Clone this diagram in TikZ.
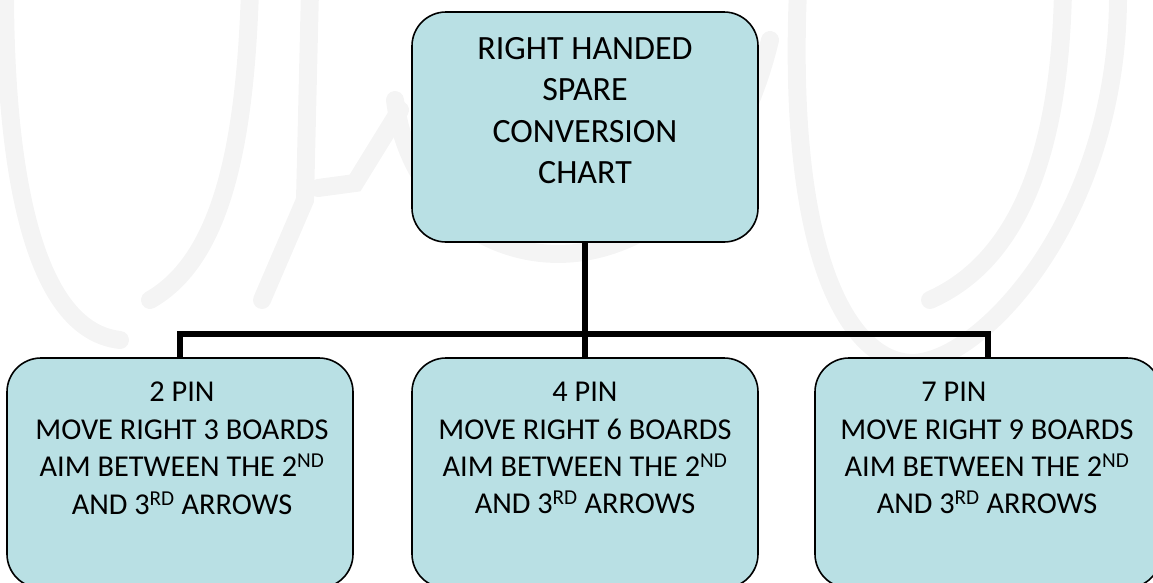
\documentclass[tikz,border=0pt]{standalone}
\usepackage{fontspec}
\setmainfont{Carlito}
\definecolor{boxfill}{HTML}{B9E0E4}
\definecolor{wm}{HTML}{F4F4F4}
\begin{document}
\begin{tikzpicture}[x=1pt,y=-1pt,
  box/.style={draw=black, line width=1.6pt, fill=boxfill, rounded corners=34pt,
    minimum width=346pt, minimum height=230pt, inner sep=0pt},
  conn/.style={line width=6pt, line join=miter},
  toptxt/.style={align=center, font=\fontsize{34}{41.5}\selectfont, inner sep=0pt, anchor=north},
  bottxt/.style={align=center, font=\fontsize{30.3}{37.4}\selectfont, inner sep=0pt, anchor=north},
  wmark/.style={draw=wm, line width=18pt, line cap=round}]
\useasboundingbox (0,0) rectangle (1153,582);
\clip (0,0) rectangle (1153,582);
% faint watermark
\draw[wmark] (5,-10) .. controls (5,160) and (30,330) .. (120,340);
\draw[wmark] (250,-10) .. controls (245,150) and (220,260) .. (150,300);
\draw[wmark] (310,-10) -- (305,200) -- (262,300);
\draw[wmark] (318,188) -- (355,183) -- (400,110);
\draw[wmark] (395,100) .. controls (420,300) and (700,330) .. (770,40);
\draw[wmark] (798,-10) .. controls (785,300) and (870,380) .. (930,360)
  .. controls (1000,340) and (1120,200) .. (1118,-10);
\draw[wmark] (1063,-10) .. controls (1060,150) and (1020,260) .. (930,300);
% boxes
\node[box] (top) at (585,127) {};
\node[box] (lbox) at (180,473) {};
\node[box] (mbox) at (585,473) {};
\node[box] (rbox) at (988,473) {};
% connectors
\coordinate (bus) at (585,334);
\draw[conn] (top.south) -- (mbox.north);
\draw[conn] (lbox.north) -- (lbox.north |- bus) -- (rbox.north |- bus) -- (rbox.north);
% texts
\node[toptxt] (toptext) at (585,37) {RIGHT HANDED\\SPARE\\CONVERSION\\CHART};
\node[bottxt] (ltext) at (182,382) {2 PIN\\MOVE RIGHT 3 BOARDS\\AIM BETWEEN THE 2\textsuperscript{ND}\\AND 3\textsuperscript{RD} ARROWS};
\node[bottxt] (mtext) at (585,382) {4 PIN\\MOVE RIGHT 6 BOARDS\\AIM BETWEEN THE 2\textsuperscript{ND}\\AND 3\textsuperscript{RD} ARROWS};
\node[bottxt] (rtext) at (987,382) {7 PIN\hspace*{66pt}\mbox{}\\MOVE RIGHT 9 BOARDS\\AIM BETWEEN THE 2\textsuperscript{ND}\\AND 3\textsuperscript{RD} ARROWS};
\end{tikzpicture}
\end{document}
